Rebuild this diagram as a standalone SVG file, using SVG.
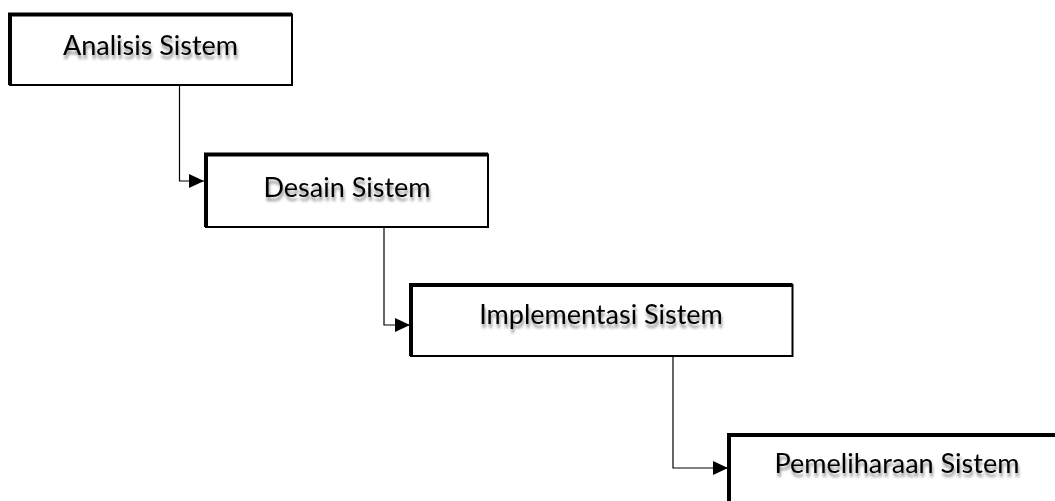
<svg xmlns="http://www.w3.org/2000/svg" width="1055" height="501" viewBox="0 0 1055 501">
  <style>
    .box { fill: #ffffff; stroke: #000000; stroke-width: 2; }
    .edge { fill: none; stroke: #000000; stroke-width: 4; }
    .label { font-family: Lato, "Open Sans", "Liberation Sans", sans-serif; font-size: 27px; fill: #000000; text-anchor: middle; filter: url(#shadow); }
    .conn { fill: none; stroke: #000000; stroke-width: 1.2; marker-end: url(#arrow); }
  </style>
  <defs>
    <marker id="arrow" markerUnits="userSpaceOnUse" markerWidth="16" markerHeight="16" refX="15" refY="7" orient="auto">
      <path d="M0,0 L15,7 L0,14 z" fill="#000000"/>
    </marker>
    <filter id="shadow" x="-10%" y="-20%" width="120%" height="160%">
      <feGaussianBlur in="SourceAlpha" stdDeviation="1.5" result="b"/>
      <feOffset in="b" dx="1" dy="4" result="o"/>
      <feComponentTransfer in="o" result="s"><feFuncA type="linear" slope="0.45"/></feComponentTransfer>
      <feMerge><feMergeNode in="s"/><feMergeNode in="SourceGraphic"/></feMerge>
    </filter>
  </defs>
  <rect width="1055" height="501" fill="#ffffff"/>

  <g id="connectors">
    <path class="conn" d="M179.5,86 V181 H204"/>
    <path class="conn" d="M384,227 V325 H410"/>
    <path class="conn" d="M673,356 V468 H728"/>
  </g>

  <g id="analisis">
    <rect class="box" x="10" y="14.5" width="282" height="70.5"/>
    <path class="edge" d="M10,85 V14.5 H292"/>
    <text class="label" x="150.5" y="55">Analisis Sistem</text>
  </g>

  <g id="desain">
    <rect class="box" x="206" y="154.5" width="282" height="72.5"/>
    <path class="edge" d="M206,227 V154.5 H488"/>
    <text class="label" x="347" y="197">Desain Sistem</text>
  </g>

  <g id="implementasi">
    <rect class="box" x="411" y="285" width="381.5" height="71"/>
    <path class="edge" d="M411,356 V285 H792.5"/>
    <text class="label" x="601" y="324">Implementasi Sistem</text>
  </g>

  <g id="pemeliharaan">
    <rect class="box" x="729" y="435" width="340" height="80"/>
    <path class="edge" d="M729,510 V435 H1060"/>
    <text class="label" x="897" y="473">Pemeliharaan Sistem</text>
  </g>
</svg>
